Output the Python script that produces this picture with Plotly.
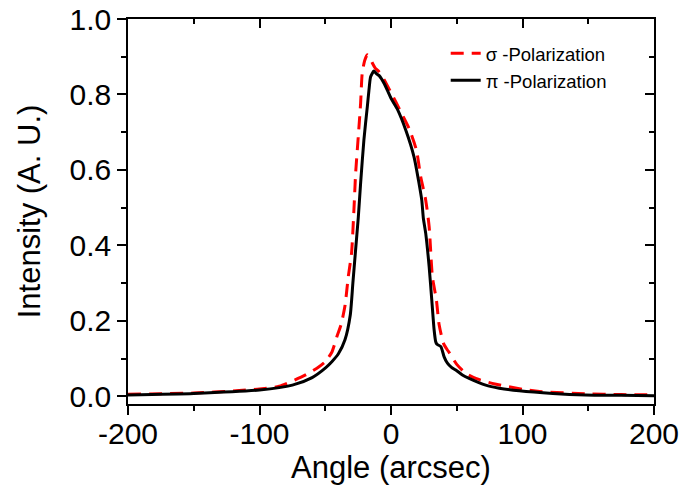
import plotly.graph_objects as go

# Angle (arcsec) and intensity for sigma polarization
sigma_angle = [-200, -150, -118, -100, -85, -65, -55, -50, -45, -41, -38, -35, -32.5, -30, -28.2,
               -26.9, -24.9, -23.1, -21.9, -20, -18, -16, -14, -12, -9, -5, 0, 3.6, 8, 13.7,
               19.3, 22.6, 26.4, 29, 31.5, 34.5, 36.6, 40, 42.9, 44.2, 50, 57, 65, 79, 100,
               113, 148, 175, 200]
sigma_int = [0.006, 0.009, 0.015, 0.020, 0.027, 0.057, 0.078, 0.092, 0.117, 0.160, 0.190, 0.240, 0.317, 0.380, 0.494,
             0.591, 0.688, 0.777, 0.856, 0.890, 0.905, 0.897, 0.882, 0.870, 0.860, 0.838, 0.805, 0.781, 0.750, 0.710,
             0.653, 0.582, 0.520, 0.450, 0.317, 0.256, 0.190, 0.140, 0.123, 0.117, 0.085, 0.061, 0.047, 0.033, 0.019,
             0.013, 0.007, 0.005, 0.004]

# Angle (arcsec) and intensity for pi polarization
pi_angle = [-200, -150, -100, -75, -60, -50, -45, -40, -35, -31, -29, -27, -24.9, -23.1, -20.6,
            -18, -16.8, -15.5, -13, -11, -9, -5, 0, 5, 11.2, 17.5, 21.3, 23.4, 24.6, 26.4,
            29, 31, 32.8, 34, 35, 37.9, 40.4, 42.9, 46, 49.3, 54.3, 59.4, 72, 82.3, 97.5,
            123, 148, 175, 200]
pi_int = [0.004, 0.008, 0.017, 0.030, 0.050, 0.075, 0.092, 0.113, 0.150, 0.215, 0.300, 0.385, 0.473, 0.565, 0.680,
          0.768, 0.810, 0.847, 0.862, 0.855, 0.850, 0.828, 0.790, 0.760, 0.706, 0.635, 0.565, 0.520, 0.472, 0.432,
          0.344, 0.256, 0.176, 0.145, 0.138, 0.132, 0.105, 0.088, 0.077, 0.070, 0.057, 0.048, 0.030, 0.022, 0.015,
          0.008, 0.004, 0.003, 0.002]

x_ticks = [-200, -100, 0, 100, 200]
x_tick_text = ["-200", "-100", "0", "100", "200"]
y_ticks = [0.0, 0.2, 0.4, 0.6, 0.8, 1.0]
y_tick_text = ["0.0", "0.2", "0.4", "0.6", "0.8", "1.0"]

FONT = "Liberation Sans, Arial, sans-serif"

fig = go.Figure()
fig.add_trace(go.Scatter(x=sigma_angle, y=sigma_int, mode="lines", name="σ -Polarization",
                         line=dict(color="#ff0000", width=3, dash="13px,8px", shape="spline", smoothing=0.6)))
fig.add_trace(go.Scatter(x=pi_angle, y=pi_int, mode="lines", name="π -Polarization",
                         line=dict(color="#000000", width=3, shape="spline", smoothing=0.6)))
# invisible trace to anchor mirror axes
fig.add_trace(go.Scatter(x=[0], y=[0], xaxis="x2", yaxis="y2", mode="markers",
                         marker=dict(opacity=0), showlegend=False, hoverinfo="skip"))

xr = [-200, 200]
yr = [-0.02, 1.0]
axis_common = dict(showline=True, linecolor="black", linewidth=1.5, showgrid=False, zeroline=False,
                   tickcolor="black", tickwidth=1.5, automargin=False)

fig.update_layout(
    width=682, height=485,
    margin=dict(l=128, r=28, t=19, b=81),
    paper_bgcolor="white", plot_bgcolor="white",
    font=dict(family=FONT, color="black"),
    xaxis=dict(range=xr, tickvals=x_ticks, ticktext=x_tick_text, ticks="outside", ticklen=9,
               ticklabelstandoff=-7,
               minor=dict(dtick=50, tick0=0, ticks="outside", ticklen=5, tickcolor="black", tickwidth=1.5),
               tickfont=dict(size=30, family=FONT),
               title=dict(text="Angle (arcsec)", font=dict(size=31, family=FONT), standoff=5),
               **axis_common),
    yaxis=dict(range=yr, tickvals=y_ticks, ticktext=y_tick_text, ticks="outside", ticklen=9,
               minor=dict(dtick=0.1, tick0=0, ticks="outside", ticklen=5, tickcolor="black", tickwidth=1.5),
               tickfont=dict(size=30, family=FONT),
               title=dict(text="Intensity (A. U.)", font=dict(size=31, family=FONT), standoff=20),
               **axis_common),
    xaxis2=dict(range=xr, overlaying="x", side="top", tickvals=x_ticks, ticks="inside", ticklen=9,
                showticklabels=False,
                minor=dict(dtick=50, tick0=0, ticks="inside", ticklen=5, tickcolor="black", tickwidth=1.5),
                **axis_common),
    yaxis2=dict(range=yr, overlaying="y", side="right", tickvals=y_ticks, ticks="inside", ticklen=9,
                showticklabels=False,
                minor=dict(dtick=0.1, tick0=0, ticks="inside", ticklen=5, tickcolor="black", tickwidth=1.5),
                **axis_common),
    legend=dict(x=0.604, y=0.959, xanchor="left", yanchor="top", bgcolor="rgba(0,0,0,0)",
                font=dict(size=18.5, family=FONT), tracegroupgap=0, itemwidth=30),
    showlegend=True,
)

fig.write_html("out.html")
